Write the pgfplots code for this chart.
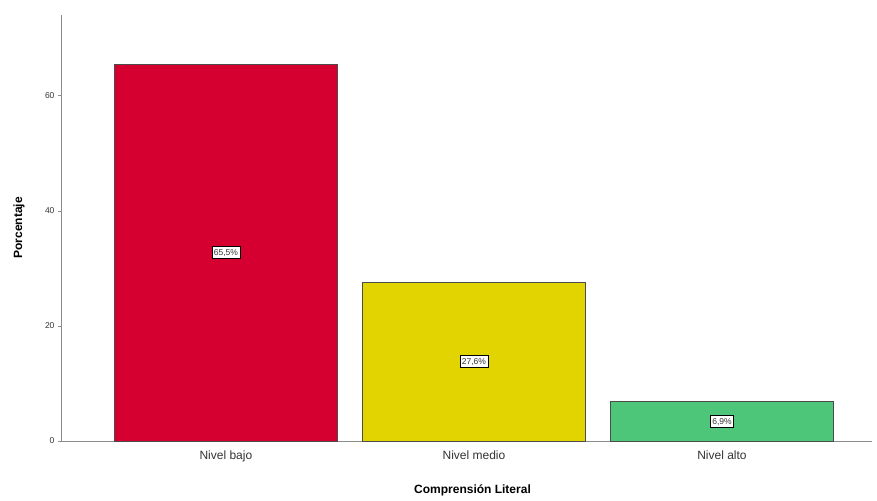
\documentclass[border=0pt]{standalone}
\usepackage{fontspec}
\setmainfont{Liberation Sans}
\usepackage{pgfplots}
\pgfplotsset{compat=1.18}
\definecolor{barred}{RGB}{214,0,48}
\definecolor{baryel}{RGB}{226,212,0}
\definecolor{bargrn}{RGB}{78,198,122}
\begin{document}
\begin{tikzpicture}
\begin{axis}[
  name=ax,
  scale only axis,
  width=811pt, height=426pt,
  xmin=-0.665, xmax=2.605,
  ymin=0, ymax=74,
  axis x line*=bottom, axis y line*=left,
  axis line style={-, draw=black!45, line width=0.8pt},
  xtick={0,1,2},
  xticklabels={Nivel bajo, Nivel medio, Nivel alto},
  xtick style={draw=none},
  ytick={0,20,40,60},
  tick align=outside,
  major tick length=3pt,
  ytick style={draw=black!45},
  /pgf/number format/assume math mode=true,
  yticklabel style={font=\fontsize{8.5}{10}\selectfont, text=black!80},
  xticklabel style={font=\fontsize{12}{14}\selectfont, text=black!80, yshift=-3pt},
  ybar, bar width=0.9, bar shift=0pt,
  clip=false,
]
\addplot[fill=barred, draw=black!70, line width=0.6pt] coordinates {(0,65.5)};
\addplot[fill=baryel, draw=black!70, line width=0.6pt] coordinates {(1,27.6)};
\addplot[fill=bargrn, draw=black!70, line width=0.6pt] coordinates {(2,6.9)};
\addplot[draw=none, mark=none, nodes near coords, point meta=explicit symbolic,
  every node near coord/.style={anchor=center, fill=white, draw=black, line width=0.6pt,
    inner xsep=2pt, inner ysep=3pt, text height=6.2pt, text depth=0pt,
    font=\fontsize{8.5}{10}\selectfont, text=black!80}]
  table[meta=label] {
x y label
0 32.75 65,5\%
1 13.8 27,6\%
2 3.45 6,9\%
};
\end{axis}
\node[rotate=90, font=\bfseries\fontsize{12}{14}\selectfont] at ([xshift=-42pt]ax.west) {Porcentaje};
\node[font=\bfseries\fontsize{12}{14}\selectfont] at ([xshift=6pt,yshift=-49pt]ax.south) {Comprensión Literal};
\path ([xshift=-61pt,yshift=-60pt]ax.south west) rectangle ([xshift=5pt,yshift=15pt]ax.north east);
\end{tikzpicture}
\end{document}
